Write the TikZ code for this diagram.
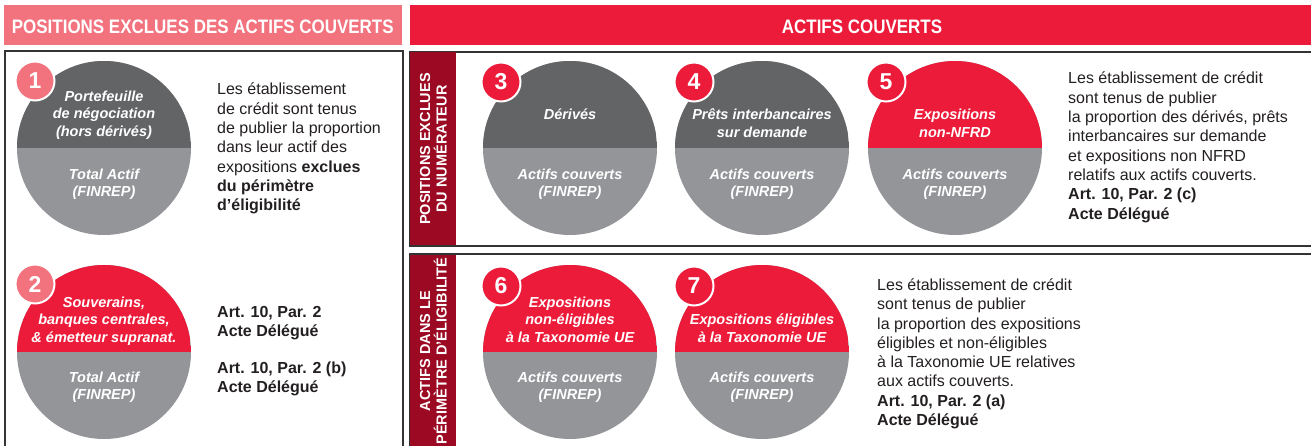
\documentclass[tikz,border=0pt]{standalone}
\usepackage{fontspec}
\setmainfont{Liberation Sans}
\newfontfamily\hdfont[FakeStretch=0.87]{Liberation Sans}
\definecolor{pinkc}{HTML}{F2727E}
\definecolor{redc}{HTML}{ED1B3A}
\definecolor{darkredc}{HTML}{9B0A22}
\definecolor{dgray}{HTML}{636466}
\definecolor{lgray}{HTML}{939598}
\definecolor{txt}{HTML}{231F20}
\definecolor{linec}{HTML}{333333}
\newcommand{\ctext}[1]{\parbox[t]{172pt}{\centering #1}}
\newcommand{\ltext}[1]{\parbox[t]{260pt}{\raggedright #1}}
\tikzset{
  header/.style={fill=#1, draw=none},
  hdtext/.style={anchor=base, inner sep=0, text=white, font=\hdfont\bfseries\fontsize{19.5}{20}\selectfont},
  boxline/.style={draw=linec, line width=1.2pt},
  vlabel/.style={rotate=90, align=center, inner sep=0, text=white, font=\bfseries\fontsize{14.5}{16.7}\selectfont},
  disc/.style={circle, inner sep=0, minimum size=174pt, fill=lgray,
    path picture={\fill[#1] (path picture bounding box.north west) rectangle (path picture bounding box.east);}},
  badge/.style={circle, inner sep=0, minimum size=39pt, fill=#1, draw=white, line width=2pt,
    text=white, font=\bfseries\fontsize{23}{23}\selectfont},
  circtxt/.style={anchor=base, inner sep=0, text=white, font=\fontsize{14.5}{17.5}\selectfont\bfseries\itshape},
  desc/.style={anchor=base west, inner sep=0, text=txt, font=\fontsize{16}{19.3}\selectfont},
}
\begin{document}
\begin{tikzpicture}[x=1pt, y=-1pt]
\useasboundingbox (0,0) rectangle (1311,446);
\clip (0,0) rectangle (1311,446);
% headers
\fill[header=pinkc] (4,5) rectangle (402,45);
\fill[header=redc] (410,5) rectangle (1311,45);
\node[hdtext, anchor=base west] (h1) at (11.7,33.3) {POSITIONS EXCLUES DES ACTIFS COUVERTS};
\node[hdtext] (h2) at (862,33.3) {ACTIFS COUVERTS};
% boxes
\draw[boxline] (5,470) -- (5,51) -- (403,51) -- (403,470);
\draw[boxline] (1330,52) -- (410,52) -- (410,246) -- (1330,246);
\draw[boxline] (1330,254) -- (410,254) -- (410,470);
\fill[darkredc] (410,52) rectangle (456,245);
\fill[darkredc] (410,254.6) rectangle (456,470);
\node[vlabel] (v1) at (433.4,149) {POSITIONS EXCLUES\\DU NUMÉRATEUR};
\node[vlabel] (v2) at (433.4,351) {ACTIFS DANS LE\\PÉRIMÈTRE D’ÉLIGIBILITÉ};
% discs
\node[disc=dgray] (c1) at (104,148) {};
\node[disc=redc]  (c2) at (104,352) {};
\node[disc=dgray] (c3) at (570,148) {};
\node[disc=dgray] (c4) at (762,148) {};
\node[disc=redc]  (c5) at (955,148) {};
\node[disc=redc]  (c6) at (570,352) {};
\node[disc=redc]  (c7) at (762,352) {};
% badges
\node[badge=pinkc] (b1) at (35,81) {1};
\node[badge=pinkc] (b2) at (35,284) {2};
\node[badge=redc] (b3) at (501,82) {3};
\node[badge=redc] (b4) at (694,82) {4};
\node[badge=redc] (b5) at (886,82) {5};
\node[badge=redc] (b6) at (501,286) {6};
\node[badge=redc] (b7) at (694,286) {7};
% disc texts
\node[circtxt] (t1a) at (104,101.5) {\ctext{Portefeuille\\de négociation\\(hors dérivés)}};
\node[circtxt] (t1b) at (104,179.3) {\ctext{Total Actif\\(FINREP)}};
\node[circtxt] (t2a) at (104,307) {\ctext{Souverains,\\banques centrales,\\\& émetteur supranat.}};
\node[circtxt] (t2b) at (104,382) {\ctext{Total Actif\\(FINREP)}};
\node[circtxt] (t3a) at (570,120) {\ctext{Dérivés}};
\node[circtxt] (t3b) at (570,179.3) {\ctext{Actifs couverts\\(FINREP)}};
\node[circtxt] (t4a) at (762,120) {\ctext{Prêts interbancaires\\sur demande}};
\node[circtxt] (t4b) at (762,179.3) {\ctext{Actifs couverts\\(FINREP)}};
\node[circtxt] (t5a) at (955,120) {\ctext{Expositions\\non-NFRD}};
\node[circtxt] (t5b) at (955,179.3) {\ctext{Actifs couverts\\(FINREP)}};
\node[circtxt] (t6a) at (570,307) {\ctext{Expositions\\non-éligibles\\à la Taxonomie UE}};
\node[circtxt] (t6b) at (570,382) {\ctext{Actifs couverts\\(FINREP)}};
\node[circtxt] (t7a) at (762,324.5) {\ctext{Expositions éligibles\\à la Taxonomie UE}};
\node[circtxt] (t7b) at (762,382) {\ctext{Actifs couverts\\(FINREP)}};
% descriptions
\node[desc] (d1) at (217,95) {\ltext{Les établissement\\de crédit sont tenus\\de publier la proportion\\dans leur actif des\\expositions \textbf{exclues}\\\textbf{du périmètre}\\\textbf{d’éligibilité}}};
\node[desc] (d2a) at (217,317) {\ltext{\textbf{Art. 10, Par. 2}\\\textbf{Acte Délégué}}};
\node[desc] (d2b) at (217,373.5) {\ltext{\textbf{Art. 10, Par. 2 (b)}\\\textbf{Acte Délégué}}};
\node[desc] (d5) at (1068,84) {\ltext{Les établissement de crédit\\sont tenus de publier\\la proportion des dérivés, prêts\\interbancaires sur demande\\et expositions non NFRD\\relatifs aux actifs couverts.\\\textbf{Art. 10, Par. 2 (c)}\\\textbf{Acte Délégué}}};
\node[desc] (d7) at (877,290.5) {\ltext{Les établissement de crédit\\sont tenus de publier\\la proportion des expositions\\éligibles et non-éligibles\\à la Taxonomie UE relatives\\aux actifs couverts.\\\textbf{Art. 10, Par. 2 (a)}\\\textbf{Acte Délégué}}};
\end{tikzpicture}
\end{document}
